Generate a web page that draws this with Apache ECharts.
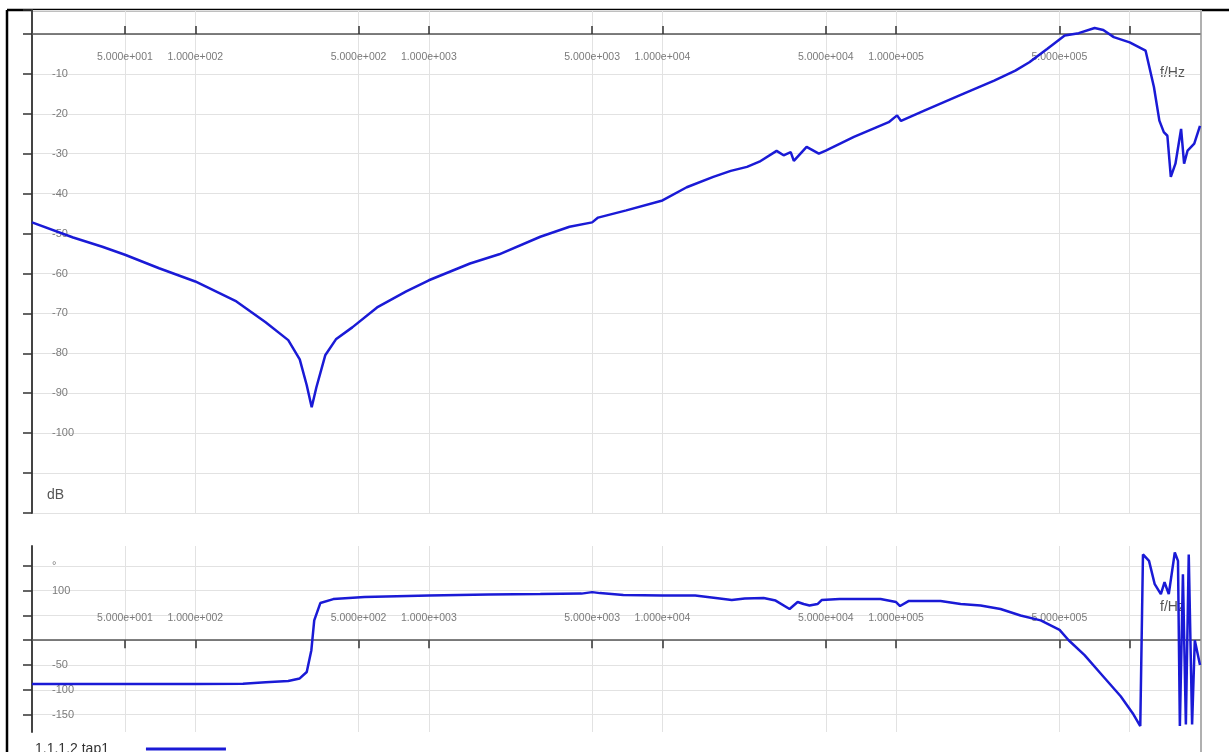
<!DOCTYPE html>
<html>
<head>
<meta charset="utf-8">
<title>tap1</title>
<script src="https://cdn.jsdelivr.net/npm/echarts@6/dist/echarts.min.js"></script>
<style>
html,body{margin:0;padding:0;background:#fff;}
#main{width:1229px;height:752px;}
</style>
</head>
<body>
<div id="main"></div>
<script>
var seriesName = '1.1.1.2 tap1';

// x axis ticks (Hz); the last tick has no label
var freqTicks = [50, 100, 500, 1000, 5000, 10000, 50000, 100000, 500000, 1000000];
var freqLabels = [50, 100, 500, 1000, 5000, 10000, 50000, 100000, 500000];
var phaseTicks = [-150, -100, -50, 0, 50, 100, 150];

// amplitude, dB
var magFreq = [20, 30, 40, 50, 70, 100, 150, 200, 250, 280, 300, 315, 330, 360, 400, 470, 600, 800,
	1000, 1500, 2000, 3000, 4000, 5000, 5300, 7000, 10000, 12700, 16500, 19600, 23000, 26000,
	30800, 33000, 35400, 36500, 41400, 46700, 50000, 66000, 93000, 101000, 105000, 132000,
	187000, 263000, 324000, 372000, 443000, 527000, 605000, 708000, 771000, 855000, 1000000,
	1170000, 1270000, 1340000, 1400000, 1450000, 1500000, 1570000, 1660000, 1710000, 1770000,
	1890000, 2000000];
var magDb = [-47.2, -51, -53.3, -55.3, -58.7, -62, -67, -72.2, -76.7, -81.5, -88, -93.5, -88.5, -80.5, -76.5, -73.5, -68.5, -64.5,
	-61.7, -57.5, -55.2, -50.8, -48.3, -47.2, -46, -44.2, -41.7, -38.4, -35.8, -34.3, -33.3, -32,
	-29.3, -30.4, -29.6, -31.8, -28.3, -30, -29.2, -25.8, -22.1, -20.4, -21.8, -19.2,
	-15.4, -11.7, -9.2, -7.1, -3.75, -0.4, 0.2, 1.5, 1, -0.8, -2.1,
	-4.2, -13.3, -21.7, -24.6, -25.5, -35.8, -32.5, -23.8, -32.5, -29.2,
	-27.5, -23];

// phase, degree
var phaseFreq = [20, 100, 160, 200, 250, 280, 300, 314, 323, 343, 390, 530, 1000, 1800, 3000, 4500, 5000, 5400,
	6800, 10000, 13800, 16900, 19800, 22500, 27100, 30500, 35000, 37900, 40200, 42600, 46100, 48000,
	57300, 85800, 100000, 104000, 113000, 155000, 189000, 230000, 280000, 341000, 416000, 501000,
	548000, 641000, 751000, 915000, 1030000, 1110000, 1140000, 1210000, 1280000, 1360000, 1410000,
	1470000, 1560000, 1610000, 1640000, 1690000, 1740000, 1790000, 1850000, 1900000, 2000000];
var phaseDeg = [-88, -88, -87.5, -84.5, -82, -77, -64, -20, 40, 75, 83, 87, 90, 92, 93, 94, 97, 95,
	91, 90, 90, 85, 81, 84, 85, 80, 63, 77, 73, 70, 73, 81,
	83, 83, 77, 69, 79, 79, 73, 70, 63, 50, 40, 21,
	0, -30, -67, -113, -147, -173, 173, 160, 113, 93, 117,
	93, 177, 160, -173, 133, -170, 173, -170, 0, -50];

var lineColor = '#1a1ad6';
var labelColor = '#7a7a7a';
var fontFamily = 'Liberation Sans, Arial, sans-serif';

function fmtFreq(v){
	var s = Number(v).toExponential(3);
	return s.replace(/e([+-])(\d+)$/, function(m, sg, d){
		while (d.length < 3) d = '0' + d;
		return 'e' + sg + d;
	});
}

function pairs(xs, ys){
	var out = [];
	for (var i = 0; i < xs.length; i++) {
		out.push([xs[i], ys[i]]);
	}
	return out;
}

// axis line, ticks and grid lines, sitting on y = 0
function freqAxis(gridIndex, pos){
	return {
		type: 'log',
		logBase: 10,
		gridIndex: gridIndex,
		position: pos,
		min: 20,
		max: 2000000,
		axisLine: {onZero: true, lineStyle: {color: '#555', width: 1.5}},
		axisTick: {inside: true, length: 8, customValues: freqTicks, lineStyle: {color: '#333', width: 1.5}},
		axisLabel: {show: false},
		splitLine: {show: true, lineStyle: {color: '#e2e2e2', width: 1}},
		minorTick: {show: false}
	};
}

// only the tick labels, moved next to the zero line
function freqLabelAxis(gridIndex, pos, offset){
	return {
		type: 'log',
		logBase: 10,
		gridIndex: gridIndex,
		position: pos,
		offset: offset,
		min: 20,
		max: 2000000,
		axisLine: {show: false, onZero: false},
		axisTick: {show: false},
		axisLabel: {
			customValues: freqLabels,
			margin: 0,
			color: labelColor,
			fontSize: 10.5,
			fontFamily: fontFamily,
			formatter: fmtFreq
		},
		splitLine: {show: false}
	};
}

var chart = echarts.init(document.getElementById('main'));

var option = {
	animation: false,
	backgroundColor: '#fff',
	grid: [
		{left: 32, right: 29, top: 10, height: 503},
		{left: 32, right: 29, top: 546, height: 186}
	],
	xAxis: [
		freqAxis(0, 'bottom'),
		freqAxis(1, 'top'),
		freqLabelAxis(0, 'top', -53),
		freqLabelAxis(1, 'bottom', -119)
	],
	yAxis: [
		{
			type: 'value',
			gridIndex: 0,
			min: -120,
			max: 6,
			interval: 10,
			axisLine: {show: true, lineStyle: {color: '#444', width: 2}},
			axisTick: {show: true, inside: false, length: 9, lineStyle: {color: '#333', width: 1.5}},
			axisLabel: {
				inside: true,
				margin: 20,
				color: labelColor,
				fontSize: 11,
				fontFamily: fontFamily,
				formatter: function(v){
					if (v >= 0 || v <= -110) return '';
					return String(v);
				}
			},
			splitLine: {show: true, lineStyle: {color: '#e2e2e2'}}
		},
		{
			type: 'value',
			gridIndex: 1,
			min: -185,
			max: 190,
			axisLine: {show: true, lineStyle: {color: '#444', width: 2}},
			axisTick: {show: true, inside: false, length: 9, customValues: phaseTicks, lineStyle: {color: '#333', width: 1.5}},
			axisLabel: {
				inside: true,
				margin: 20,
				customValues: phaseTicks,
				color: labelColor,
				fontSize: 11,
				fontFamily: fontFamily,
				formatter: function(v){
					if (v == 150) return '°';
					if (v == 0 || v == 50) return '';
					return String(v);
				}
			},
			splitLine: {show: true, lineStyle: {color: '#e2e2e2'}}
		}
	],
	legend: {
		data: [{name: seriesName, icon: 'rect'}],
		left: 30,
		top: 737,
		align: 'right',
		itemWidth: 80,
		itemHeight: 3,
		textStyle: {fontSize: 14, color: '#333', fontFamily: fontFamily, padding: [0, 32, 0, 0]}
	},
	graphic: [
		{type: 'line', shape: {x1: 7, y1: 10, x2: 1229, y2: 10}, style: {stroke: '#000', lineWidth: 2.5}},
		{type: 'line', shape: {x1: 7, y1: 10, x2: 7, y2: 752}, style: {stroke: '#000', lineWidth: 2.5}},
		{type: 'line', shape: {x1: 1201, y1: 10, x2: 1201, y2: 752}, style: {stroke: '#b0b0b0', lineWidth: 2}},
		{type: 'text', left: 1160, top: 66, style: {text: 'f/Hz', fill: '#555', font: '14px ' + fontFamily}},
		{type: 'text', left: 1160, top: 600, style: {text: 'f/Hz', fill: '#555', font: '14px ' + fontFamily}},
		{type: 'text', left: 47, top: 488, style: {text: 'dB', fill: '#555', font: '14px ' + fontFamily}}
	],
	series: [
		{
			name: seriesName,
			type: 'line',
			xAxisIndex: 0,
			yAxisIndex: 0,
			showSymbol: false,
			data: pairs(magFreq, magDb),
			itemStyle: {color: lineColor},
			lineStyle: {color: lineColor, width: 2.5}
		},
		{
			name: seriesName,
			type: 'line',
			xAxisIndex: 1,
			yAxisIndex: 1,
			showSymbol: false,
			data: pairs(phaseFreq, phaseDeg),
			itemStyle: {color: lineColor},
			lineStyle: {color: lineColor, width: 2.5}
		}
	]
};

chart.setOption(option);
</script>
</body>
</html>
